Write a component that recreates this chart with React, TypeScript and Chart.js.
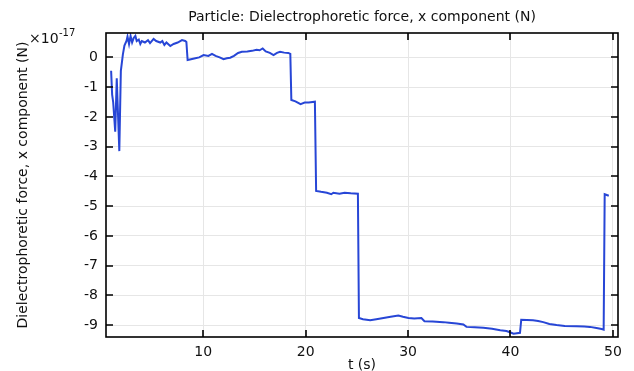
import React, { useEffect, useRef } from "react";
import { Chart, registerables } from "chart.js";

Chart.register(...registerables);

// Time (s)
const timeS = [
  1.0, 1.1, 1.2, 1.4, 1.55, 1.8, 1.95, 2.15, 2.3, 2.5, 2.6, 2.75, 2.9, 3.05, 3.2, 3.37, 3.5, 3.7, 3.85, 4.0,
  4.3, 4.6, 4.8, 5.15, 5.4, 5.8, 6.0, 6.2, 6.4, 6.78, 7.1, 7.5, 7.92, 8.24, 8.35, 8.47, 8.8, 9.22, 9.6, 10.03,
  10.5, 10.85, 11.2, 11.6, 11.98, 12.3, 12.63, 13.0, 13.4, 13.77, 14.3, 14.75, 15.2, 15.5, 15.8, 16.1, 16.5, 16.86, 17.2, 17.5,
  17.9, 18.3, 18.5, 18.6, 19.0, 19.5, 19.9, 20.3, 20.9, 21.02, 21.5, 22.07, 22.5, 22.7, 23.3, 23.8, 24.4, 25.1, 25.2, 25.6,
  26.3, 26.9, 27.6, 28.3, 29.05, 29.5, 30.03, 30.6, 31.3, 31.6, 32.4, 33.44, 34.0, 34.75, 35.4, 35.7, 36.5, 37.35, 38.2, 39.0,
  39.6, 39.95, 40.3, 40.93, 41.05, 41.6, 42.2, 42.7, 43.2, 43.8, 44.5, 45.3, 46.46, 47.2, 47.76, 48.4, 48.9, 49.1, 49.2, 49.6,
];

// Dielectrophoretic force, x component, in units of 1e-17 N
const forceX = [
  -0.45, -1.25, -1.5, -2.5, -0.7, -3.15, -0.45, 0.1, 0.4, 0.55, 0.7, 0.45, 0.72, 0.5, 0.65, 0.72, 0.55, 0.6, 0.45, 0.55,
  0.5, 0.58, 0.48, 0.62, 0.55, 0.5, 0.55, 0.42, 0.5, 0.38, 0.45, 0.5, 0.58, 0.55, 0.52, -0.09, -0.06, -0.03, 0.0, 0.08,
  0.05, 0.12, 0.05, 0.0, -0.06, -0.03, -0.01, 0.05, 0.15, 0.19, 0.2, 0.22, 0.26, 0.24, 0.3, 0.2, 0.15, 0.08, 0.15, 0.19,
  0.16, 0.15, 0.12, -1.43, -1.48, -1.57, -1.52, -1.52, -1.49, -4.49, -4.52, -4.55, -4.6, -4.55, -4.58, -4.55, -4.57, -4.58, -8.76, -8.8,
  -8.84, -8.8, -8.76, -8.72, -8.68, -8.72, -8.76, -8.78, -8.76, -8.87, -8.88, -8.9, -8.92, -8.95, -8.98, -9.06, -9.07, -9.09, -9.12, -9.17,
  -9.2, -9.24, -9.29, -9.26, -8.82, -8.83, -8.84, -8.86, -8.9, -8.96, -9.0, -9.03, -9.04, -9.05, -9.06, -9.1, -9.13, -9.15, -4.6, -4.65,
];

const xTicks = [10, 20, 30, 40, 50];
const yTicks = [-9, -8, -7, -6, -5, -4, -3, -2, -1, 0];

const titleText = "Particle: Dielectrophoretic force, x component (N)";
const xTitle = "t (s)";
const yTitle = "Dielectrophoretic force, x component (N)";

const FONT = "DejaVu Sans";

const decorPlugin = {
  id: "decor",
  afterDraw(chart: any) {
    const { ctx, chartArea } = chart;
    const { left, right, top, bottom } = chartArea;
    const xs = chart.scales.x;
    const ys = chart.scales.y;
    ctx.save();
    // frame
    ctx.strokeStyle = "#000";
    ctx.lineWidth = 1.6;
    ctx.strokeRect(left, top, right - left, bottom - top);
    // inner ticks
    const tl = 7;
    ctx.lineWidth = 1.6;
    ctx.beginPath();
    xTicks.forEach((v) => {
      const px = Math.round(xs.getPixelForValue(v));
      ctx.moveTo(px, bottom);
      ctx.lineTo(px, bottom - tl);
      ctx.moveTo(px, top);
      ctx.lineTo(px, top + tl);
    });
    yTicks.forEach((v) => {
      const py = Math.round(ys.getPixelForValue(v));
      ctx.moveTo(left, py);
      ctx.lineTo(left + tl, py);
      ctx.moveTo(right, py);
      ctx.lineTo(right - tl, py);
    });
    ctx.stroke();

    ctx.fillStyle = "#111";
    ctx.font = `14px "${FONT}"`;
    ctx.textAlign = "center";
    ctx.textBaseline = "middle";
    ctx.fillText(titleText, (left + right) / 2, 17);
    ctx.fillText(xTitle, (left + right) / 2, 365);

    ctx.save();
    ctx.translate(23, (top + bottom) / 2);
    ctx.rotate(-Math.PI / 2);
    ctx.fillText(yTitle, 0, 0);
    ctx.restore();

    // multiplier
    ctx.textAlign = "left";
    ctx.font = `14px "${FONT}"`;
    ctx.fillText("×10", 29, 39);
    ctx.font = `10px "${FONT}"`;
    ctx.fillText("-17", 59, 33);
    ctx.restore();
  },
};

export default function App() {
  const ref = useRef<HTMLCanvasElement>(null);
  useEffect(() => {
    document.body.style.margin = "0";
    const points = timeS.map((t, i) => ({ x: t, y: forceX[i] }));
    const chart = new Chart(ref.current as HTMLCanvasElement, {
      type: "line",
      data: {
        datasets: [
          {
            data: points,
            borderColor: "#2746d6",
            borderWidth: 2,
            pointRadius: 0,
            tension: 0,
            fill: false,
          },
        ],
      },
      options: {
        animation: false,
        responsive: false,
        devicePixelRatio: 1,
        layout: { padding: { top: 33, right: 16, left: 0, bottom: 0 } },
        plugins: { legend: { display: false }, title: { display: false }, tooltip: { enabled: false } },
        scales: {
          x: {
            type: "linear",
            min: 0.5,
            max: 50.5,
            afterBuildTicks: (s: any) => {
              s.ticks = xTicks.map((v) => ({ value: v }));
            },
            afterFit: (s: any) => {
              s.height = 34;
            },
            grid: { color: "#e6e6e6", lineWidth: 1, drawTicks: false },
            border: { display: false },
            ticks: { padding: 7, color: "#111", font: { family: FONT, size: 14 }, maxRotation: 0 },
          },
          y: {
            type: "linear",
            min: -9.4,
            max: 0.82,
            afterBuildTicks: (s: any) => {
              s.ticks = yTicks.map((v) => ({ value: v }));
            },
            afterFit: (s: any) => {
              s.width = 106;
            },
            grid: { color: "#e6e6e6", lineWidth: 1, drawTicks: false },
            border: { display: false },
            ticks: { padding: 8, color: "#111", font: { family: FONT, size: 14 } },
          },
        },
      },
      plugins: [decorPlugin],
    } as any);
    return () => chart.destroy();
  }, []);
  return (
    <div style={{ width: 634, height: 371, background: "#fff" }}>
      <canvas ref={ref} width={634} height={371} />
    </div>
  );
}
